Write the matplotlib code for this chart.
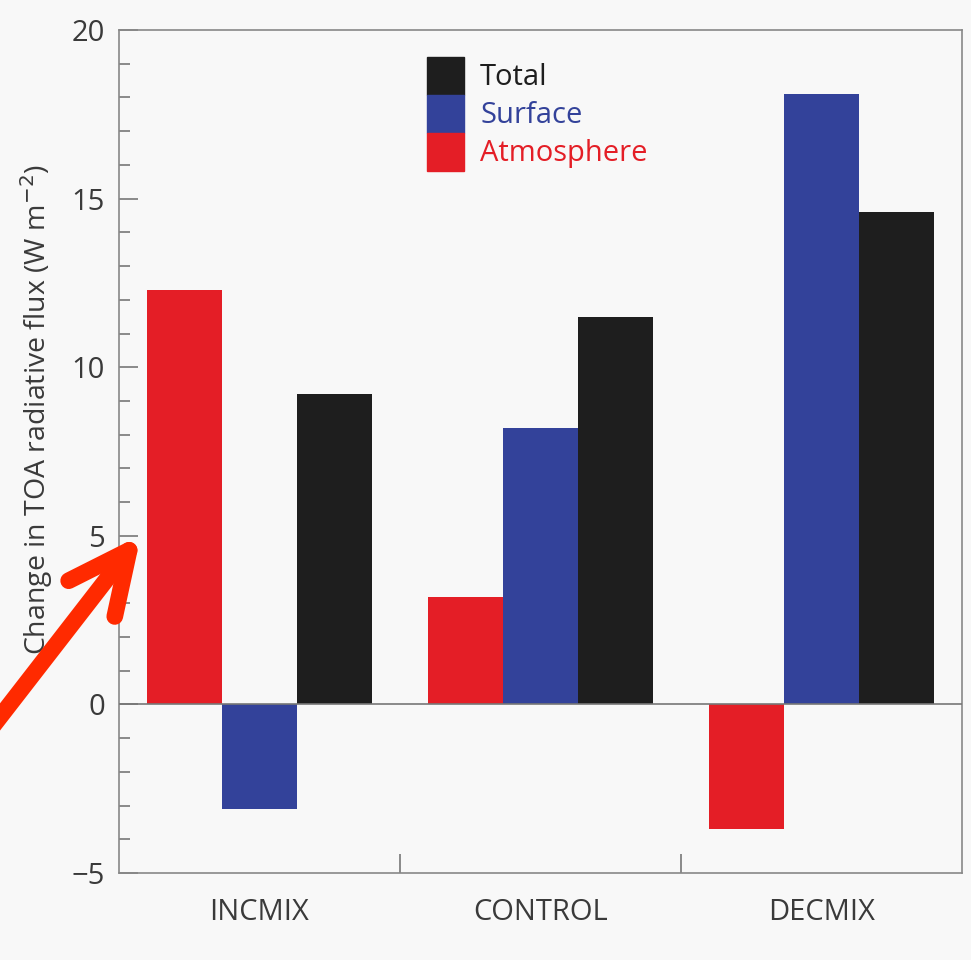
"""Change in TOA radiative flux by mixing experiment."""
import numpy as np
import matplotlib
matplotlib.use("Agg")
import matplotlib.pyplot as plt
from matplotlib.patches import Patch
from matplotlib.ticker import MultipleLocator

# Data
experiments = ["INCMIX", "CONTROL", "DECMIX"]
atmosphere = [12.3, 3.2, -3.7]
surface = [-3.1, 8.2, 18.1]
total = [9.2, 11.5, 14.6]
yticks = [-5, 0, 5, 10, 15, 20]

c_atm = "#e41e26"
c_sfc = "#33429a"
c_tot = "#1e1e1e"
bg = "#f8f8f8"
txt = "#3a3a3a"

plt.rcParams["font.family"] = ["Open Sans", "DejaVu Sans"]

fig = plt.figure(figsize=(9.71, 9.60), dpi=100, facecolor=bg)
ax = fig.add_axes([0.1226, 0.0906, 0.8681, 0.8781], facecolor=bg)

x = np.arange(len(experiments))
w = 0.8 / 3
ax.bar(x - w, atmosphere, w, color=c_atm, label="Atmosphere")
ax.bar(x, surface, w, color=c_sfc, label="Surface")
ax.bar(x + w, total, w, color=c_tot, label="Total")
ax.axhline(0, color="#777777", linewidth=1.2, zorder=3)

ax.set_xlim(-0.5, 2.5)
ax.set_ylim(-5, 20)
ax.set_yticks(yticks)
ax.yaxis.set_minor_locator(MultipleLocator(1))
ax.tick_params(axis="y", which="major", direction="in", length=14, width=1.2,
               color="#777777", labelsize=21, labelcolor=txt, pad=10)
ax.tick_params(axis="y", which="minor", direction="in", length=8, width=1.2,
               color="#777777")

# group separators as ticks, labels at group centres
ax.set_xticks([0.5, 1.5])
ax.set_xticklabels([])
ax.set_xticks(x, minor=True)
ax.set_xticklabels(experiments, minor=True)
ax.tick_params(axis="x", which="major", direction="in", length=14, width=1.2,
               color="#777777")
ax.tick_params(axis="x", which="minor", length=0, labelsize=21,
               labelcolor=txt, pad=18)

for s in ax.spines.values():
    s.set_color("#888888")
    s.set_linewidth(1.2)

ax.set_ylabel("Change in TOA radiative flux (W m$^{-2}$)", fontsize=20.5,
              color=txt)
ax.yaxis.set_label_coords(-0.076, 0.55)

handles = [Patch(color=c_tot), Patch(color=c_sfc), Patch(color=c_atm)]
leg = ax.legend(handles, ["Total", "Surface", "Atmosphere"],
                loc="upper left", bbox_to_anchor=(427 / 971, 1 - 57 / 960),
                bbox_transform=fig.transFigure, frameon=False, fontsize=21,
                handlelength=1.27, handleheight=1.62, labelspacing=0,
                handletextpad=0.55, borderpad=0, borderaxespad=0)
for t, c in zip(leg.get_texts(), [c_tot, c_sfc, c_atm]):
    t.set_color(c)

# red pointer arrow
ax.annotate("", xy=(141 / 971, 1 - 535 / 960), xycoords="figure fraction",
            xytext=(-0.02, 1 - 742 / 960), textcoords="figure fraction",
            arrowprops=dict(arrowstyle="->,head_length=4.4,head_width=2.1",
                            color="#ff2a00", linewidth=12,
                            shrinkA=0, shrinkB=0,
                            capstyle="round", joinstyle="round"),
            annotation_clip=False)

fig.savefig("out.png", dpi=100, facecolor=bg)
